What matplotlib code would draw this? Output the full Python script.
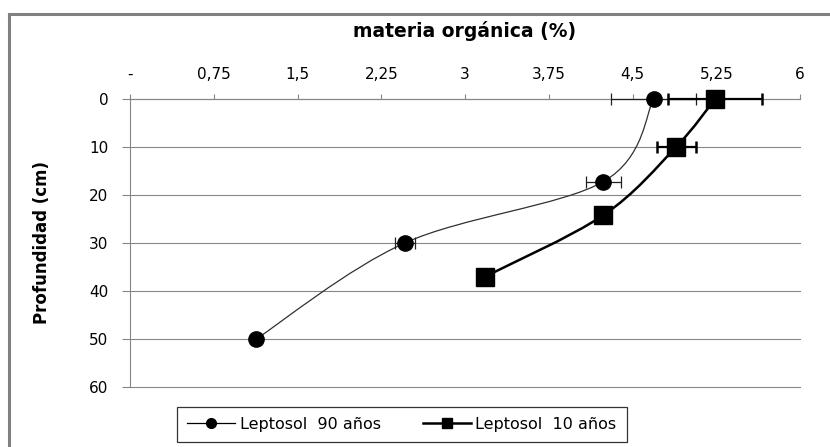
import matplotlib
matplotlib.use("Agg")
from matplotlib import pyplot as plt
from matplotlib.path import Path
from matplotlib.patches import PathPatch
from matplotlib.lines import Line2D
import numpy as np

plt.rcParams["font.family"] = ["DejaVu Sans"]

# data
x_ticks = [0, 0.75, 1.5, 2.25, 3, 3.75, 4.5, 5.25, 6]
x_tick_labels = ["-", "0,75", "1,5", "2,25", "3", "3,75", "4,5", "5,25", "6"]
y_ticks = [0, 10, 20, 30, 40, 50, 60]

mo_90 = [4.69, 4.24, 2.46, 1.13]
depth_90 = [0, 17.2, 30, 50]
err_90 = [0.38, 0.16, 0.09, 0.0]

mo_10 = [5.24, 4.89, 4.24, 3.18]
depth_10 = [0, 10, 24.2, 37]
err_10 = [0.42, 0.175, 0.0, 0.0]

GRAY = "#868686"


def smooth_path(xs, ys):
    # Excel-like smoothed line: catmull-rom segments as cubic beziers
    pts = np.column_stack([xs, ys]).astype(float)
    n = len(pts)
    verts = [pts[0]]
    codes = [Path.MOVETO]
    for i in range(n - 1):
        p0 = pts[i - 1] if i > 0 else pts[i]
        p1 = pts[i]
        p2 = pts[i + 1]
        p3 = pts[i + 2] if i + 2 < n else pts[i + 1]
        c1 = p1 + (p2 - p0) / 6.0
        c2 = p2 - (p3 - p1) / 6.0
        verts += [c1, c2, p2]
        codes += [Path.CURVE4] * 3
    return Path(verts, codes)


fig = plt.figure(figsize=(8.3, 4.47), dpi=100)
ax = fig.add_axes([130 / 830, 1 - 387 / 447, 670 / 830, 288 / 447])

ax.set_xlim(0, 6)
ax.set_ylim(60, 0)

ax.add_patch(PathPatch(smooth_path(mo_90, depth_90), fill=False,
                       edgecolor="#303030", lw=0.9, zorder=3, clip_on=False))
ax.add_patch(PathPatch(smooth_path(mo_10, depth_10), fill=False,
                       edgecolor="black", lw=1.8, zorder=3, clip_on=False))

eb1 = ax.errorbar(mo_90, depth_90, xerr=err_90, fmt="none", ecolor="#202020",
                  elinewidth=0.9, capsize=4, capthick=0.9, zorder=4)
eb2 = ax.errorbar(mo_10, depth_10, xerr=err_10, fmt="none", ecolor="black",
                  elinewidth=1.6, capsize=4.5, capthick=1.8, zorder=4)
for eb in (eb1, eb2):
    for artist in eb.get_children():
        artist.set_clip_on(False)

ax.plot(mo_90, depth_90, linestyle="none", marker="o", markersize=11,
        color="black", zorder=5, clip_on=False)
ax.plot(mo_10, depth_10, linestyle="none", marker="s", markersize=12.5,
        color="black", zorder=5, clip_on=False)

ax.set_xticks(x_ticks)
ax.set_xticklabels(x_tick_labels)
ax.set_yticks(y_ticks)
ax.xaxis.tick_top()
ax.tick_params(axis="x", direction="out", length=3.5, color=GRAY, width=0.8,
               labelsize=11, pad=9, labelcolor="black")
ax.tick_params(axis="y", direction="out", length=5.5, color=GRAY, width=0.8,
               labelsize=11, pad=10, labelcolor="black")

ax.grid(axis="y", color=GRAY, lw=0.8)
ax.set_axisbelow(True)
for gl in ax.get_ygridlines():
    gl.set_clip_on(False)
for side in ["bottom", "right"]:
    ax.spines[side].set_visible(False)
for side in ["top", "left"]:
    ax.spines[side].set_color(GRAY)
    ax.spines[side].set_linewidth(0.8)

fig.text(465 / 830, 1 - 31 / 447, "materia orgánica (%)", ha="center",
         va="center", fontsize=13.5, fontweight="bold")
fig.text(42 / 830, 1 - 243 / 447, "Profundidad (cm)", ha="center",
         va="center", rotation=90, fontsize=12, fontweight="bold")

# chart frame (only top and left edges visible)
fig.add_artist(Line2D([9 / 830, 1], [1 - 14 / 447] * 2, color="#808080",
                      lw=2.2, transform=fig.transFigure))
fig.add_artist(Line2D([9 / 830] * 2, [0, 1 - 14 / 447], color="#808080",
                      lw=2.2, transform=fig.transFigure))

handles = [
    Line2D([], [], color="black", lw=0.9, marker="o", markersize=7),
    Line2D([], [], color="black", lw=1.8, marker="s", markersize=7),
]
leg = fig.legend(handles, ["Leptosol  90 años", "Leptosol  10 años"],
                 loc="center", bbox_to_anchor=(402 / 830, 1 - 424.5 / 447),
                 ncol=2, fontsize=11.5, frameon=True, fancybox=False,
                 handlelength=3.0, columnspacing=2.6, borderpad=0.65,
                 borderaxespad=0, handletextpad=0.3)
leg.get_frame().set_edgecolor("black")
leg.get_frame().set_linewidth(0.9)

plt.savefig("out.png", dpi=100)
